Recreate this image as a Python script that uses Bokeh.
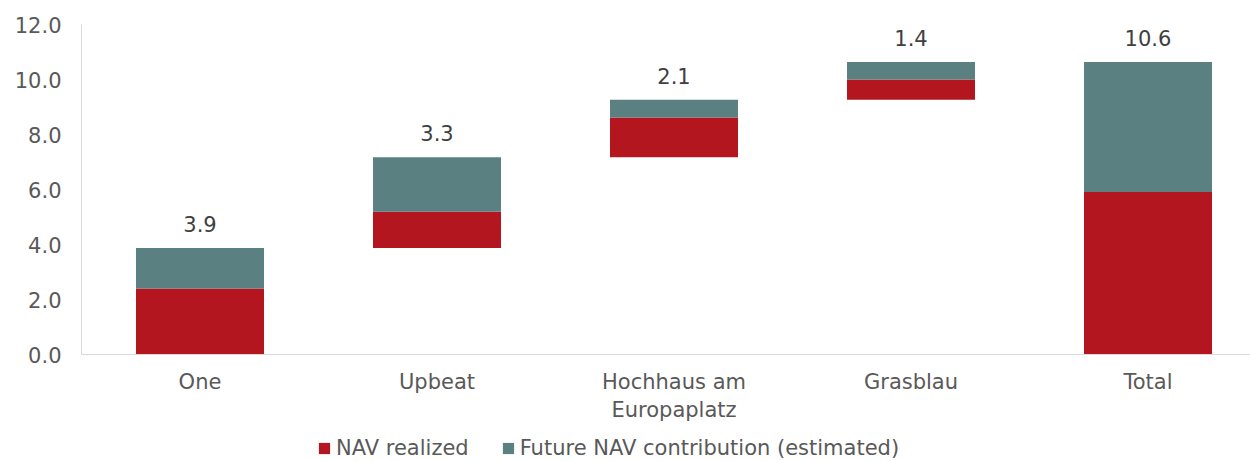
import numpy as np
from bokeh.plotting import figure
from bokeh.layouts import column
from bokeh.models import Range1d, ColumnDataSource, Legend, LegendItem, FixedTicker, NumeralTickFormatter
from bokeh.embed import file_html
from bokeh.resources import INLINE
from bokeh.core.properties import value

categories = ["One", "Upbeat", "Hochhaus am\nEuropaplatz", "Grasblau", "Total"]
nav_realized = [2.40, 1.32, 1.45, 0.74]
future_nav = [1.47, 1.98, 0.64, 0.64]
y_ticks = [0, 2, 4, 6, 8, 10, 12]
series_names = ["NAV realized", "Future NAV contribution (estimated)"]

RED = "#B3161F"
TEAL = "#5B8082"
FONT = "DejaVu Sans"
TICK_COLOR = "#595959"
LABEL_COLOR = "#404040"
AXIS_COLOR = "#D9D9D9"

real = np.array(nav_realized)
fut = np.array(future_nav)
step = real + fut
start = np.concatenate([[0.0], np.cumsum(step)[:-1]])
real_bottom = np.append(start, 0.0)
real_top = np.append(start + real, real.sum())
fut_bottom = real_top
fut_top = np.append(start + step, step.sum())
totals = np.append(step, step.sum())
xs = np.arange(len(categories)) + 0.5

src = ColumnDataSource(dict(
    x=xs, rb=real_bottom, rt=real_top, fb=fut_bottom, ft=fut_top,
    lab=["%.1f" % t for t in totals],
))

W = 1250
H_MAIN, H_LEG = 430, 31
left, top = 81, 24
bottom = H_MAIN - 354
frame_w = W - left
cat_px = 237.0

p = figure(width=W, height=H_MAIN, output_backend="svg", toolbar_location=None,
           x_range=Range1d(0, frame_w / cat_px), y_range=Range1d(0, 12),
           min_border_left=left, min_border_right=0, min_border_top=top,
           min_border_bottom=bottom)
p.outline_line_color = None
p.xgrid.visible = False
p.ygrid.visible = False
p.background_fill_color = "white"
p.border_fill_color = "white"

p.vbar(x="x", width=0.54, bottom="rb", top="rt", source=src,
       fill_color=RED, line_color=None)
p.vbar(x="x", width=0.54, bottom="fb", top="ft", source=src,
       fill_color=TEAL, line_color=None)

p.text(x="x", y="ft", text="lab", source=src, text_align="center",
       text_baseline="alphabetic", y_offset=-24, text_font=value(FONT),
       text_font_size="21px", text_color=LABEL_COLOR)

# axes
xa = p.xaxis[0]
xa.ticker = FixedTicker(ticks=list(xs))
xa.major_label_overrides = {float(v): c for v, c in zip(xs, categories)}
xa.axis_line_color = AXIS_COLOR
xa.major_tick_line_color = None
xa.minor_tick_line_color = None
xa.major_tick_out = 0
xa.major_tick_in = 0
xa.major_label_standoff = 15
xa.major_label_text_font = FONT
xa.major_label_text_font_size = "21px"
xa.major_label_text_color = TICK_COLOR

ya = p.yaxis[0]
ya.ticker = FixedTicker(ticks=y_ticks)
ya.formatter = NumeralTickFormatter(format="0.0")
ya.axis_line_color = AXIS_COLOR
ya.major_tick_line_color = None
ya.minor_tick_line_color = None
ya.major_tick_out = 0
ya.major_tick_in = 0
ya.major_label_standoff = 20
ya.major_label_text_font = FONT
ya.major_label_text_font_size = "21px"
ya.major_label_text_color = TICK_COLOR

# legend strip (its bars use the same data but lie outside its visible range)
lf = figure(width=W, height=H_LEG, output_backend="svg", toolbar_location=None,
            x_range=p.x_range, y_range=Range1d(100, 101),
            x_axis_type=None, y_axis_type=None,
            min_border_left=left, min_border_right=0, min_border_top=0,
            min_border_bottom=0)
lf.outline_line_color = None
lf.xgrid.visible = False
lf.ygrid.visible = False
lr1 = lf.vbar(x="x", width=0.54, bottom="rb", top="rt", source=src,
              fill_color=RED, line_color=None)
lr2 = lf.vbar(x="x", width=0.54, bottom="fb", top="ft", source=src,
              fill_color=TEAL, line_color=None)

legend = Legend(items=[LegendItem(label=series_names[0], renderers=[lr1]),
                       LegendItem(label=series_names[1], renderers=[lr2])],
                orientation="horizontal", location=(317 - left, 1),
                glyph_width=14, glyph_height=14, label_standoff=5, spacing=32,
                padding=0, margin=0, border_line_color=None,
                background_fill_alpha=0,
                label_text_font=FONT, label_text_font_size="21px",
                label_text_color=TICK_COLOR)
lf.add_layout(legend, "center")

layout = column(p, lf, spacing=0)
open("out.html", "w").write(file_html(layout, INLINE))
